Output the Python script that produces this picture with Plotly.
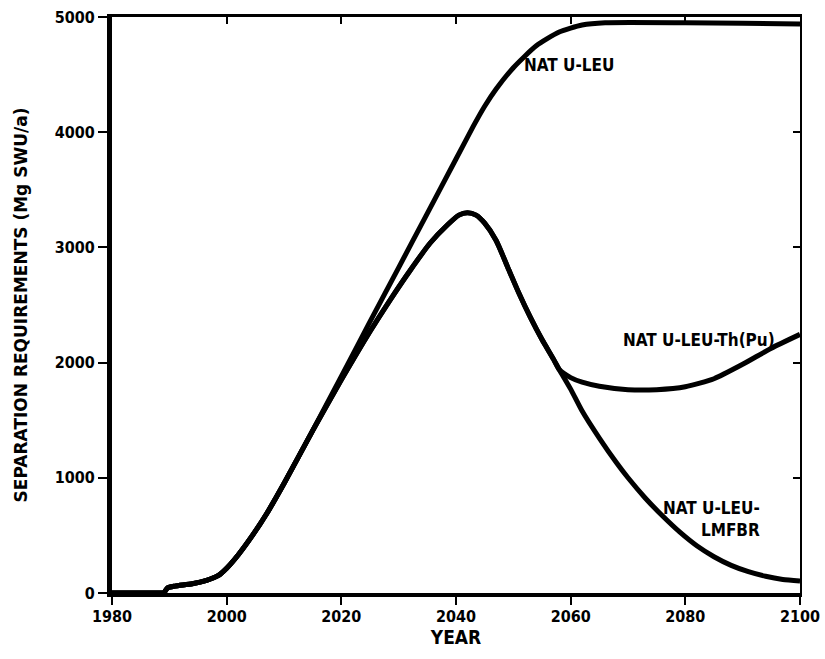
import plotly.graph_objects as go

# ---- data ----
years_nat = [1980, 1988.5, 1989, 1989.7, 1991, 1994, 1996.5, 1998.5, 2000, 2002, 2004.5,
             2007, 2010, 2015, 2020, 2025, 2030, 2035, 2040, 2043, 2045, 2047,
             2050, 2054, 2058, 2062, 2066, 2080, 2090, 2100]
vals_nat = [0, 0, 0, 45, 60, 80, 110, 150, 215, 330, 500,
            690, 950, 1410, 1880, 2355, 2825, 3296, 3767, 4050, 4225, 4375,
            4560, 4750, 4870, 4930, 4950, 4950, 4945, 4940]

years_common = [1980, 1988.5, 1989, 1989.7, 1991, 1994, 1996.5, 1998.5, 2000, 2002, 2004.5,
                2007, 2010, 2015, 2020, 2025, 2028.5, 2032, 2035.5, 2038.4, 2040.5, 2042,
                2043.5, 2045, 2047, 2049, 2051, 2053, 2055, 2057, 2058]
vals_common = [0, 0, 0, 45, 60, 80, 110, 150, 215, 330, 500,
               690, 950, 1410, 1850, 2270, 2543, 2800, 3038, 3190, 3280, 3300,
               3280, 3210, 3060, 2830, 2600, 2390, 2200, 2030, 1940]

years_th = [2060, 2062, 2065, 2070, 2075, 2080, 2085, 2090, 2095, 2100]
vals_th = [1870, 1830, 1795, 1765, 1765, 1790, 1860, 1985, 2125, 2245]

years_lmfbr = [2060, 2062, 2065, 2068, 2070, 2073, 2076, 2079, 2082, 2085,
               2088, 2091, 2094, 2097, 2100]
vals_lmfbr = [1770, 1580, 1345, 1130, 1000, 825, 670, 530, 410, 315,
              240, 185, 145, 118, 105]

x_ticks = [1980, 2000, 2020, 2040, 2060, 2080, 2100]
y_ticks = [0, 1000, 2000, 3000, 4000, 5000]

FONT = "Liberation Sans Narrow, DejaVu Sans Condensed, Arial Narrow, sans-serif"
WIDE = "DejaVu Sans, Liberation Sans, sans-serif"

fig = go.Figure()
line = dict(color="black", width=5, shape="spline", smoothing=0.6)

fig.add_trace(go.Scatter(x=years_nat, y=vals_nat, mode="lines", line=line,
                         name="NAT U-LEU", showlegend=False))
fig.add_trace(go.Scatter(x=years_common + years_th, y=vals_common + vals_th,
                         mode="lines", line=line, name="NAT U-LEU-Th(Pu)",
                         showlegend=False))
fig.add_trace(go.Scatter(x=years_common + years_lmfbr, y=vals_common + vals_lmfbr,
                         mode="lines", line=line, name="NAT U-LEU-LMFBR",
                         showlegend=False))
# invisible trace to activate mirrored frame axes
fig.add_trace(go.Scatter(x=[x_ticks[0]], y=[y_ticks[0]], xaxis="x2", yaxis="y2",
                         mode="markers", marker=dict(opacity=0), showlegend=False,
                         hoverinfo="skip"))

annot_font = dict(family=FONT, size=17, color="black", weight="bold")
fig.add_annotation(x=2051.5, y=4580, text="NAT U-LEU", showarrow=False,
                   xanchor="left", font=annot_font)
fig.add_annotation(x=2068.7, y=2200, text="NAT U-LEU-Th(Pu)", showarrow=False,
                   xanchor="left", font=annot_font)
fig.add_annotation(x=2093.4, y=640, text="NAT U-LEU-<br>LMFBR", showarrow=False,
                   xanchor="right", align="right", font=annot_font)

tick_font = dict(family=FONT, size=16, color="black", weight="bold")

fig.update_layout(
    width=825, height=659,
    margin=dict(l=112, r=25, t=17, b=66),
    paper_bgcolor="white", plot_bgcolor="white",
    font=dict(family=FONT, color="black"),
    xaxis=dict(range=[1980, 2100], tickvals=x_ticks, ticks="outside", ticklen=8,
               tickwidth=2, tickcolor="black", showline=True, linewidth=4,
               linecolor="black", showgrid=False, zeroline=False, tickfont=tick_font,
               automargin=False, ticklabelstandoff=-2,
               title=dict(text="YEAR", font=dict(family=FONT, size=19, weight="bold"),
                          standoff=6)),
    yaxis=dict(range=[0, 5000], tickvals=y_ticks, ticks="outside", ticklen=9,
               tickwidth=2, tickcolor="black", showline=True, linewidth=5,
               linecolor="black", showgrid=False, zeroline=False, tickfont=tick_font,
               automargin=False,
               title=dict(text="SEPARATION REQUIREMENTS (Mg SWU/a)",
                          font=dict(family=WIDE, size=17, weight="bold"),
                          standoff=24)),
    xaxis2=dict(range=[1980, 2100], tickvals=x_ticks, overlaying="x", side="top",
                ticks="inside", ticklen=7, tickwidth=2, tickcolor="black",
                showticklabels=False, showline=True, linewidth=3, linecolor="black",
                showgrid=False, zeroline=False, automargin=False),
    yaxis2=dict(range=[0, 5000], tickvals=y_ticks, overlaying="y", side="right",
                ticks="inside", ticklen=7, tickwidth=2, tickcolor="black",
                showticklabels=False, showline=True, linewidth=2, linecolor="black",
                showgrid=False, zeroline=False, automargin=False),
)

fig.write_html("out.html")
